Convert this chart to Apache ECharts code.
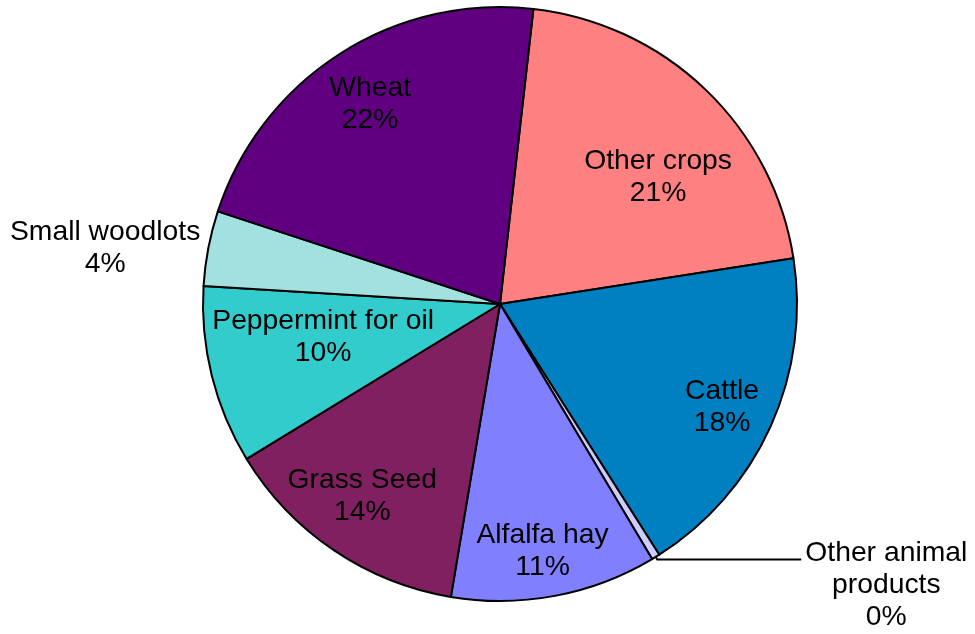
<!DOCTYPE html>
<html><head><meta charset="utf-8">
<script src="https://cdn.jsdelivr.net/npm/echarts@6/dist/echarts.min.js"></script>
<style>html,body{margin:0;padding:0;background:#fff}#c{width:975px;height:634px}</style>
</head><body><div id="c"></div>
<script>
// Data (clockwise from the top)
const categories = ['Other crops', 'Cattle', 'Other animal products', 'Alfalfa hay', 'Grass Seed', 'Peppermint for oil', 'Small woodlots', 'Wheat'];
const shares = [20.74, 18.45, 0.45, 11.2, 13.62, 9.7, 4.08, 21.74];

// Styles
const colors = ['#FF8080', '#0080C0', '#CCCCFF', '#8080FF', '#802060', '#33CCCC', '#A3E0E0', '#600080'];
const CX = 500, CY = 304, R = 297;
// inside labels: [radius fraction, angle nudge in degrees]
const insideLabel = {
  'Other crops': [0.683, 7.4],
  'Cattle': [0.824, 0.5],
  'Alfalfa hay': [0.846, 0.9],
  'Grass Seed': [0.796, 1.6],
  'Peppermint for oil': [0.606, 3.3],
  'Wheat': [0.803, -0.3]
};
const lineBreaks = { 'Other animal products': 'Other animal\nproducts' };

const total = shares.reduce((a, b) => a + b, 0);

const data = categories.map((name, i) => {
  const item = { name: name, value: shares[i], itemStyle: { color: colors[i] } };
  if (name === 'Other animal products') {
    item.label = { position: 'outside', padding: [52, 0, 0, 0], distanceToLabelLine: 4 };
    item.labelLine = { show: true, length: 3, length2: 144, lineStyle: { color: '#000', width: 2 } };
  } else if (name === 'Small woodlots') {
    item.label = { position: 'outside', distanceToLabelLine: 5 };
    item.labelLine = { show: false, length: 0, length2: 3 };
  }
  return item;
});

const chart = echarts.init(document.getElementById('c'), null, { renderer: 'canvas' });
chart.setOption({
  backgroundColor: '#ffffff',
  animation: false,
  series: [{
    type: 'pie',
    center: [CX, CY],
    radius: [0, R],
    startAngle: 83.54,
    clockwise: true,
    avoidLabelOverlap: false,
    emphasis: { disabled: true },
    itemStyle: { borderColor: '#000', borderWidth: 2 },
    label: {
      show: true,
      position: 'inside',
      overflow: 'none',
      fontFamily: 'Liberation Sans, Arial, sans-serif',
      fontSize: 28,
      color: '#000',
      lineHeight: 32,
      formatter: function (p) {
        const pct = Math.round(p.value / total * 100);
        const lines = (lineBreaks[p.name] || p.name).split('\n');
        lines.push(pct + '%');
        return lines.map(l => '{t|' + l + '}').join('\n');
      },
      rich: {
        t: { align: 'center', fontFamily: 'Liberation Sans, Arial, sans-serif', fontSize: 28.3, lineHeight: 32, color: '#000' }
      }
    },
    labelLine: { show: false },
    labelLayout: function (params) {
      const name = categories[params.dataIndex];
      const cfg = insideLabel[name];
      if (!cfg) return {};
      const r = params.labelRect;
      const mx = r.x + r.width / 2 - CX;
      const my = r.y + r.height / 2 - CY;
      let a = Math.atan2(mx, -my) + cfg[1] * Math.PI / 180;
      const rad = cfg[0] * R;
      return { x: CX + rad * Math.sin(a), y: CY - rad * Math.cos(a), align: 'center', verticalAlign: 'middle' };
    },
    data: data
  }]
});
</script>
</body></html>
